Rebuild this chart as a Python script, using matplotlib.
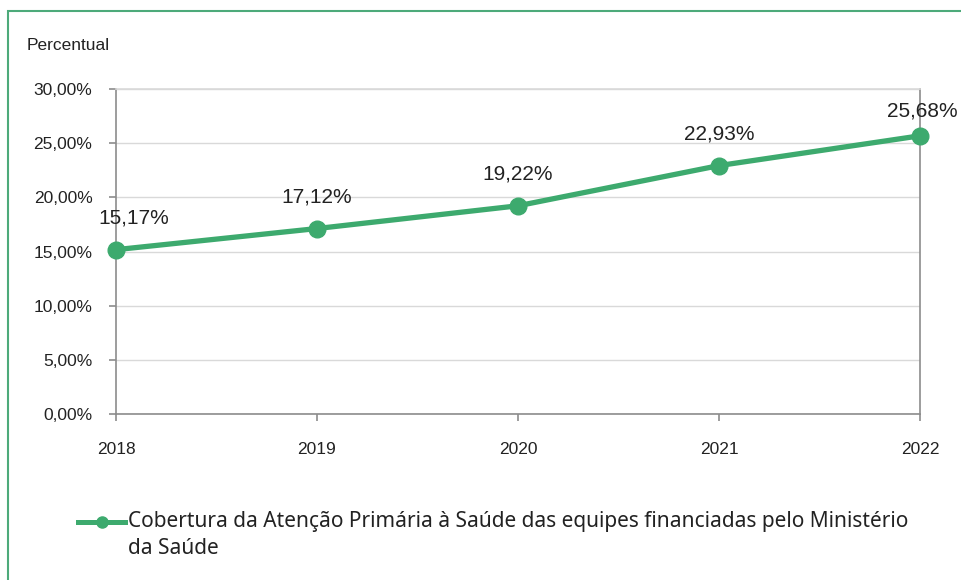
import matplotlib
matplotlib.use("Agg")
import matplotlib.pyplot as plt
from matplotlib.lines import Line2D
from matplotlib.patches import Rectangle
from matplotlib.ticker import FuncFormatter

years = [2018, 2019, 2020, 2021, 2022]
coverage = [15.17, 17.12, 19.22, 22.93, 25.68]
data_labels = ["15,17%", "17,12%", "19,22%", "22,93%", "25,68%"]
y_ticks = [0, 5, 10, 15, 20, 25, 30]
legend_line1 = "Cobertura da Atenção Primária à Saúde das equipes financiadas pelo Ministério"
legend_line2 = "da Saúde"
y_title = "Percentual"

GREEN = "#3daa6e"
W, H = 962, 580
fig = plt.figure(figsize=(W / 100, H / 100), dpi=100)
fig.patch.set_facecolor("white")

# green frame
fig.add_artist(Rectangle((8 / W, -0.05), 1.2, 1 - 11 / H + 0.05, transform=fig.transFigure,
                         fill=False, edgecolor="#4daa7a", linewidth=1.5))

ax = fig.add_axes([116 / W, 1 - 414 / H, (920 - 116) / W, (414 - 89) / H])
ax.plot(years, coverage, color=GREEN, linewidth=3.8, marker="o", markersize=12,
        clip_on=False, zorder=3, solid_capstyle="round")

ax.set_xlim(2018, 2022)
ax.set_ylim(0, 30)
ax.set_xticks(years)
ax.set_yticks(y_ticks)
ax.yaxis.set_major_formatter(FuncFormatter(lambda v, p: f"{v:.2f}%".replace(".", ",")))
ax.grid(axis="y", color="#d9d9d9", linewidth=1)
ax.set_axisbelow(True)
for s in ax.spines.values():
    s.set_color("#8c8c8c")
    s.set_linewidth(1.2)
ax.spines["top"].set_color("#d9d9d9")
ax.tick_params(axis="both", color="#8c8c8c", length=5, width=1.2, direction="out",
               labelsize=12.5, labelcolor="#222222")
ax.tick_params(axis="y", pad=12)
ax.tick_params(axis="x", pad=15)
for lbl in ax.get_xticklabels() + ax.get_yticklabels():
    lbl.set_fontfamily("Liberation Sans")

offsets = [(12.5, 23), (0, 23), (0, 23), (0, 23), (1.5, 18)]
for x, y, t, (dx, dy) in zip(years, coverage, data_labels, offsets):
    ax.annotate(t, (x, y), xytext=(dx, dy), textcoords="offset points",
                ha="center", va="center", fontsize=15, color="#222222",
                fontfamily="Liberation Sans", annotation_clip=False)

fig.text(27 / W, 1 - 46 / H, y_title, fontsize=12.5, fontfamily="Liberation Sans",
         color="#222222", va="center", ha="left")

# legend
fig.add_artist(Line2D([78 / W, 125 / W], [1 - 522 / H, 1 - 522 / H], transform=fig.transFigure,
                      color=GREEN, linewidth=3.6))
fig.add_artist(Line2D([101.5 / W], [1 - 522 / H], transform=fig.transFigure,
                      color=GREEN, marker="o", markersize=8))
fig.text(128 / W, 1 - 522 / H, legend_line1, fontsize=15, fontfamily="Noto Sans",
         color="#222222", va="center", ha="left")
fig.text(128 / W, 1 - 548 / H, legend_line2, fontsize=15, fontfamily="Noto Sans",
         color="#222222", va="center", ha="left")

fig.savefig("out.png", dpi=100)
